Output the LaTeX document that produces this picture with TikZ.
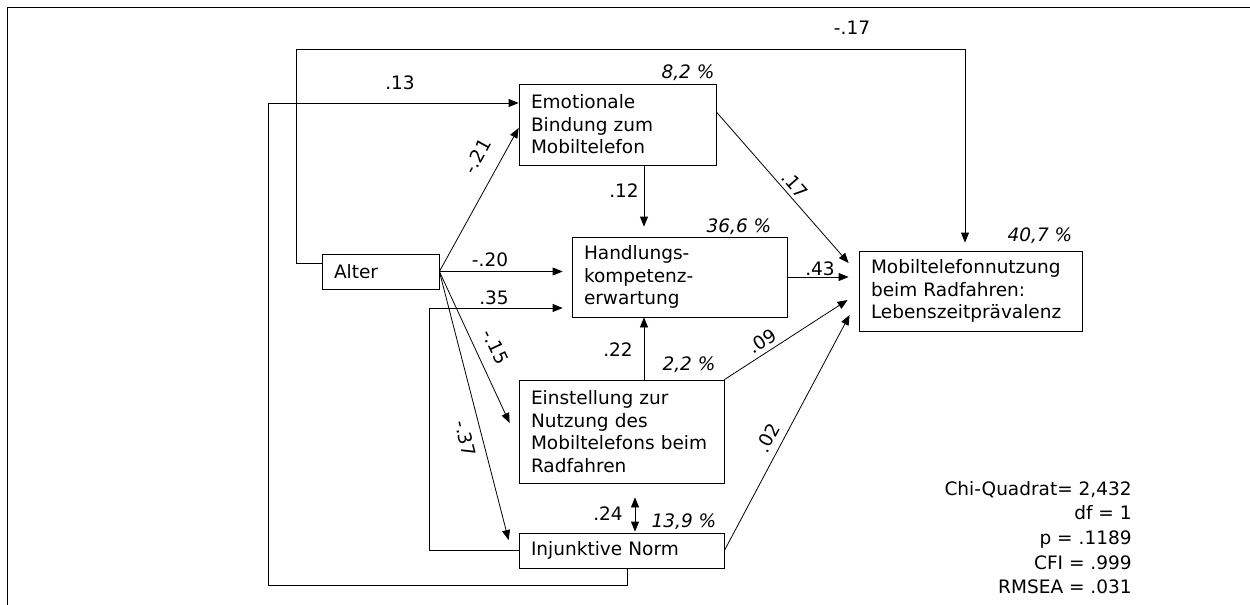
\documentclass[tikz,border=0pt]{standalone}
\usepackage{fontspec}
\setmainfont{DejaVu Sans}
\usetikzlibrary{arrows.meta}

\begin{document}
\begin{tikzpicture}[x=0.5pt,y=-0.5pt,font=\fontsize{9.25}{11.25}\selectfont]
        \tikzstyle{every node}=[inner sep=0pt]
        \tikzstyle{var}=[draw,rectangle,inner xsep=6pt,align=left]
        \tikzstyle{arr}=[-{Triangle[length=5pt,width=4pt]}]
        \tikzstyle{rsq}=[font=\fontsize{9.25}{11.25}\selectfont\itshape]
        \useasboundingbox (0,0) rectangle (1250,605);
        \draw (7,605) -- (7,7) -- (1250,7);
        \node[var,minimum width=58.5pt,minimum height=17.5pt,text width=46.5pt] (alter) at (380.5,271.5) {Alter};
        \node[var,minimum width=98.5pt,minimum height=40.5pt,text width=86.5pt] (emo) at (617.5,124.5) {Emotionale\\Bindung zum\\Mobiltelefon};
        \node[var,minimum width=107.5pt,minimum height=40pt,text width=95.5pt] (hand) at (679.5,277) {Handlungs-\\kompetenz-\\erwartung};
        \node[var,minimum width=111.5pt,minimum height=40pt,text width=99.5pt] (mobil) at (970.5,291) {Mobiltelefonnutzung\\beim Radfahren:\\Lebenszeitprävalenz};
        \node[var,minimum width=102.5pt,minimum height=51.5pt,text width=90.5pt] (einst) at (621.5,431.5) {Einstellung zur\\Nutzung des\\Mobiltelefons beim\\Radfahren};
        \node[var,minimum width=102.5pt,minimum height=17.5pt,text width=90.5pt] (injn) at (621.5,550.5) {Injunktive Norm};
        \draw[arr,shorten >=4pt] ([yshift=4.25pt]alter.west) -| (296,49) -| ([xshift=-2.75pt]mobil.north);
        \draw[arr] ([xshift=2.75pt]injn.south) |- (268,585) |- ([yshift=10.75pt]emo.west);
        \draw[arr,shorten >=4.5pt] (injn.west) -| (429,308) -- ([yshift=-15.5pt]hand.west);
        \draw[arr] (alter.east) -- ([yshift=-1.75pt]emo.west);
        \draw[arr,shorten >=4.5pt] (alter.east) -- (alter.east -| hand.west);
        \draw[arr] (alter.east) -- ([shift={(-4.5pt,4.25pt)}]einst.west);
        \draw[arr] (alter.east) -- ([shift={(-5pt,5.25pt)}]injn.west);
        \draw[arr,shorten >=5pt] ([xshift=13.25pt]emo.south) -- ([xshift=-17.75pt]hand.north);
        \draw[arr] ([yshift=6.25pt]emo.east) -- ([shift={(-5pt,14pt)}]mobil.west);
        \draw[arr,shorten >=5pt] (hand.east) -- (hand.east -| mobil.west);
        \draw[arr] ([xshift=11.25pt]einst.north) -- ([xshift=-17.75pt]hand.south);
        \draw[arr] (einst.north east) -- ([shift={(-5.5pt,-4.5pt)}]mobil.west);
        \draw[arr] (injn.east) -- ([shift={(-4.5pt,-12pt)}]mobil.west);
        \draw[{Triangle[length=5pt,width=4pt]}-{Triangle[length=5pt,width=4pt]},shorten <=7pt,shorten >=0.5pt] ([xshift=6.75pt]einst.south) -- ([xshift=6.75pt]injn.north);
        \node (c17a) at (852,28) {-.17};
        \node (c13) at (400,83) {.13};
        \node[rotate=60.9] (c21) at (477,156) {-.21};
        \node (c20) at (490,260) {-.20};
        \node (c35) at (494,298) {.35};
        \node[rotate=-64.9] (c15) at (495.5,347) {-.15};
        \node[rotate=-75.4] (c37) at (465.5,438.5) {-.37};
        \node (c12) at (624,191) {.12};
        \node[rotate=-48.6] (c17b) at (795,185) {.17};
        \node (c43) at (820,269) {.43};
        \node (c22) at (618,350) {.22};
        \node[rotate=32.8] (c09) at (762,341) {.09};
        \node[rotate=61.9] (c02) at (768,438) {.02};
        \node (c24) at (608,514) {.24};
        \node[rsq] (r1) at (688,73) {8,2 \%};
        \node[rsq] (r2) at (739,227) {36,6 \%};
        \node[rsq] (r3) at (1040,236) {40,7 \%};
        \node[rsq] (r4) at (689,365) {2,2 \%};
        \node[rsq] (r5) at (684,522) {13,9 \%};
        \node[align=right,anchor=east,font=\fontsize{9.25}{12.35}\selectfont] (fit) at (1132,537.5) {Chi-Quadrat= 2,432\\df = 1\\p = .1189\\CFI = .999\\RMSEA = .031};
\end{tikzpicture}
\end{document}
